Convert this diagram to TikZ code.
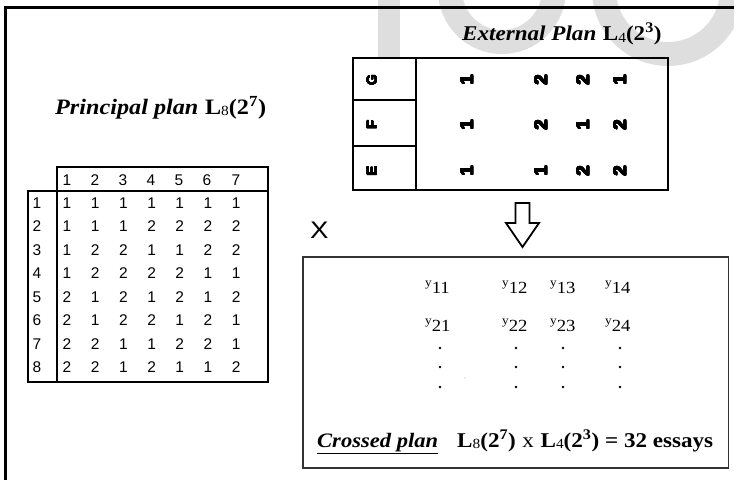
\documentclass[tikz,border=0pt]{standalone}
\usepackage{fontspec}
\usepackage{contour}
\contournumber{20}
\setmainfont{Liberation Serif}
\newfontfamily\sansfam{Liberation Sans}
\newcommand\Lsub[1]{\textbf{L}{\fontsize{14}{14}\selectfont\raisebox{-1.5pt}{#1}}}
\newcommand\yent[1]{\raisebox{7pt}{\fontsize{12}{12}\selectfont y}#1}
\newcommand\wide[1]{\scalebox{1.1}[1]{#1}}
\newcommand\heavy[2]{\contourlength{#1}\contour{black}{#2}}
\begin{document}
\begin{tikzpicture}[x=1pt,y=-1pt,
  frameline/.style={line width=2.2pt},
  wmfill/.style={fill=black!13},
  wmline/.style={draw=black!13, line width=24pt},
  title/.style={anchor=base west, inner sep=0pt},
  ptab/.style={line width=1.1pt},
  pdig/.style={inner sep=0pt, font=\sansfam\fontsize{15.5}{15.5}\selectfont},
  etab/.style={line width=2pt},
  edig/.style={inner sep=0pt, rotate=90, font=\sansfam\bfseries\fontsize{18}{18}\selectfont},
  elet/.style={inner sep=0pt, rotate=90, font=\sansfam\bfseries\fontsize{14}{14}\selectfont},
  yentry/.style={anchor=base west, inner sep=0pt, font=\fontsize{17}{17}\selectfont},
  dotm/.style={circle, fill=black, inner sep=0pt, minimum size=2.6pt},
  cbox/.style={draw=black!80, line width=1.4pt},
  hollow/.style={line width=1.8pt, line join=miter}]
\useasboundingbox (0,0) rectangle (734,480);

% background lettering
\fill[wmfill] (378,0) rectangle (400,58);
\draw[wmline] (450,-10) arc[start angle=180, end angle=0, radius=52];
\draw[wmline] (668,-10) ++(180:64) arc[start angle=180, end angle=0, radius=64];

% page frame
\draw[frameline] (5.5,480) -- (5.5,7.5) -- (734,7.5);

% titles
\node[title, font=\fontsize{22}{22}\selectfont] (ptitle) at (55,114)
  {\wide{\textbf{\textit{Principal plan}}\hspace{6pt}\Lsub{8}\textbf{(2\textsuperscript{7})}}};
\node[title, font=\fontsize{21}{21}\selectfont] (etitle) at (462,40.5)
  {\wide{\textbf{\textit{External Plan}}\hspace{6pt}\Lsub{4}\textbf{(2\textsuperscript{3})}}};

% principal plan L8(2^7)
\draw[ptab] (57,382) -- (57,167) -- (268,167) -- (268,382) -- (28,382) -- (28,191) -- (268,191);
\foreach \c/\x in {1/67,2/95,3/123,4/151,5/179,6/207,7/236}
  \node[pdig] (ph\c) at (\x,180) {\c};
\foreach \r/\row in {1/{1,1,1,1,1,1,1},2/{1,1,1,2,2,2,2},3/{1,2,2,1,1,2,2},4/{1,2,2,2,2,1,1},
                     5/{2,1,2,1,2,1,2},6/{2,1,2,2,1,2,1},7/{2,2,1,1,2,2,1},8/{2,2,1,2,1,1,2}}{
  \pgfmathsetmacro\yy{203+(\r-1)*23.5}
  \node[pdig] (pr\r) at (37,\yy) {\r};
  \foreach \v [count=\c] in \row {
    \pgfmathsetmacro\xx{67+(\c-1)*28.2}
    \node[pdig] (p\r-\c) at (\xx,\yy) {\v};
  }
}

% external plan L4(2^3)
\draw[etab] (353,58) rectangle (668,190);
\draw[etab] (416,58) -- (416,190);
\draw[etab] (353,99.5) -- (416,99.5);
\draw[etab] (353,146) -- (416,146);
\foreach \f/\y/\row in {G/80/{1,2,2,1},F/125/{1,2,1,2},E/171/{1,1,2,2}}{
  \node[elet] (e\f) at (372,\y) {\heavy{0.35pt}{\f}};
  \foreach \v [count=\c] in \row {
    \pgfmathsetmacro\xx{{467,541,583,620}[\c-1]}
    \node[edig] (e\f\c) at (\xx,\y) {\heavy{0.4pt}{\v}};
  }
}

% cross sign and arrow
\node[anchor=base west, inner sep=0pt, font=\sansfam\fontsize{24}{24}\selectfont] (cross) at (310,238)
  {\scalebox{1.15}[1]{X}};
\draw[hollow] (515.5,203) -- (529.5,203) -- (529.5,223) -- (539,223) -- (522.5,247)
  -- (506,223) -- (515.5,223) -- cycle;

% crossed plan
\draw[cbox] (303,257) rectangle (728.5,468);
\node[yentry] (y11) at (425,293) {\wide{\yent{11}}};
\node[yentry] (y12) at (502,293) {\wide{\yent{12}}};
\node[yentry] (y13) at (550,293) {\wide{\yent{13}}};
\node[yentry] (y14) at (605,293) {\wide{\yent{14}}};
\node[yentry] (y21) at (425,331) {\wide{\yent{21}}};
\node[yentry] (y22) at (502,331) {\wide{\yent{22}}};
\node[yentry] (y23) at (550,331) {\wide{\yent{23}}};
\node[yentry] (y24) at (605,331) {\wide{\yent{24}}};
\foreach \x [count=\i] in {440,516,563,620}
  \foreach \y [count=\j] in {348,367,387}
    \node[dotm] (d\i\j) at (\x,\y) {};
\node[circle, fill=black!35, inner sep=0pt, minimum size=1.2pt] (faint) at (465,378) {};
\node[anchor=base west, inner sep=0pt, font=\fontsize{20.5}{20.5}\selectfont] (cp) at (317,447)
  {\wide{\textbf{\textit{\underline{Crossed plan}}}}};
\node[anchor=base west, inner sep=0pt, font=\fontsize{21}{21}\selectfont] (eq) at (457,447)
  {\wide{\Lsub{8}\textbf{(2\textsuperscript{7})}\hspace{6pt}x\hspace{6pt}\Lsub{4}\textbf{(2\textsuperscript{3}) = 32 essays}}};
\end{tikzpicture}
\end{document}
